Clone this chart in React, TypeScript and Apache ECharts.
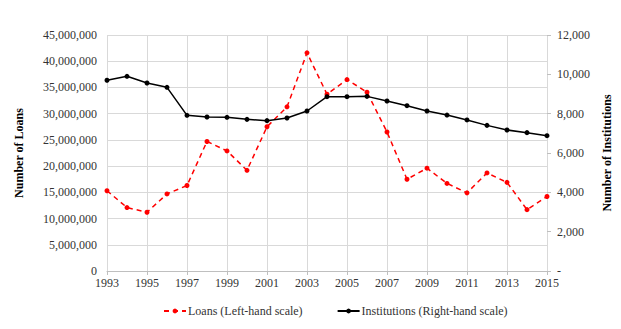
import React, { useEffect, useRef } from "react";
import * as echarts from "echarts";

const years = [
  "1993", "1994", "1995", "1996", "1997", "1998", "1999", "2000", "2001", "2002", "2003", "2004",
  "2005", "2006", "2007", "2008", "2009", "2010", "2011", "2012", "2013", "2014", "2015",
];

// Number of loans (left-hand scale)
const loans = [
  15300000, 12100000, 11200000, 14700000, 16300000, 24700000, 22900000, 19200000, 27500000,
  31300000, 41600000, 33700000, 36500000, 34100000, 26500000, 17500000, 19600000, 16700000,
  14900000, 18700000, 16900000, 11700000, 14200000,
];

// Number of institutions (right-hand scale)
const institutions = [
  9700, 9900, 9560, 9340, 7915, 7830, 7815, 7710, 7645, 7780, 8135, 8865, 8865, 8880, 8645,
  8405, 8135, 7930, 7680, 7405, 7170, 7035, 6880,
];

const FONT = "'Liberation Serif', 'DejaVu Serif', serif";

export default function App() {
  const ref = useRef<HTMLDivElement>(null);

  useEffect(() => {
    if (!ref.current) return;
    const chart = echarts.init(ref.current, undefined, { renderer: "svg" });
    const fmt = (v: number) => v.toLocaleString("en-US");
    chart.setOption({
      animation: false,
      backgroundColor: "#ffffff",
      textStyle: { fontFamily: FONT },
      grid: { left: 107, right: 74, top: 35, bottom: 58 },
      legend: {
        left: 158,
        top: 300,
        itemWidth: 22,
        itemHeight: 6,
        itemGap: 34,
        textStyle: { fontFamily: FONT, fontSize: 12, color: "#333333", padding: [0, 0, 0, -3] },
        data: ["Loans (Left-hand scale)", "Institutions (Right-hand scale)"],
      },
      xAxis: {
        type: "category",
        data: years,
        boundaryGap: false,
        axisLine: { lineStyle: { color: "#bfbfbf" } },
        axisTick: { show: true, interval: 1, length: 4, lineStyle: { color: "#bfbfbf" } },
        axisLabel: { interval: 1, color: "#333333", fontFamily: FONT, fontSize: 12, margin: 6 },
        splitLine: { show: true, interval: 1, lineStyle: { color: "#d9d9d9" } },
      },
      yAxis: [
        {
          type: "value",
          min: 0,
          max: 45000000,
          interval: 5000000,
          name: "Number of Loans",
          nameLocation: "middle",
          nameGap: 82,
          nameRotate: 90,
          nameTextStyle: { fontFamily: FONT, fontSize: 12, fontWeight: "bold", color: "#000" },
          axisLine: { show: false },
          axisTick: { show: false },
          axisLabel: { color: "#333333", fontFamily: FONT, fontSize: 12, formatter: fmt, margin: 10 },
          splitLine: { show: true, lineStyle: { color: "#d9d9d9" } },
        },
        {
          type: "value",
          min: 0,
          max: 12000,
          interval: 2000,
          name: "Number of Institutions",
          nameLocation: "middle",
          nameGap: 52,
          nameRotate: 90,
          nameTextStyle: { fontFamily: FONT, fontSize: 12, fontWeight: "bold", color: "#000" },
          axisLine: { show: false },
          axisTick: { show: true, length: 4, lineStyle: { color: "#bfbfbf" } },
          axisLabel: {
            color: "#333333",
            fontFamily: FONT,
            fontSize: 12,
            margin: 10,
            formatter: (v: number) => (v === 0 ? "-" : fmt(v)),
          },
          splitLine: { show: false },
        },
      ],
      series: [
        {
          name: "Loans (Left-hand scale)",
          type: "line",
          yAxisIndex: 0,
          data: loans,
          symbol: "circle",
          symbolSize: 5,
          itemStyle: { color: "#ff0000" },
          lineStyle: { color: "#ff0000", width: 1.5, type: [5, 4] },
          z: 2,
        },
        {
          name: "Institutions (Right-hand scale)",
          type: "line",
          yAxisIndex: 1,
          data: institutions,
          symbol: "circle",
          symbolSize: 5,
          itemStyle: { color: "#000000" },
          lineStyle: { color: "#000000", width: 1.5 },
          z: 3,
        },
      ],
    });
    return () => chart.dispose();
  }, []);

  return (
    <div
      ref={ref}
      style={{ position: "absolute", left: 0, top: 0, width: 621, height: 329 }}
    />
  );
}
